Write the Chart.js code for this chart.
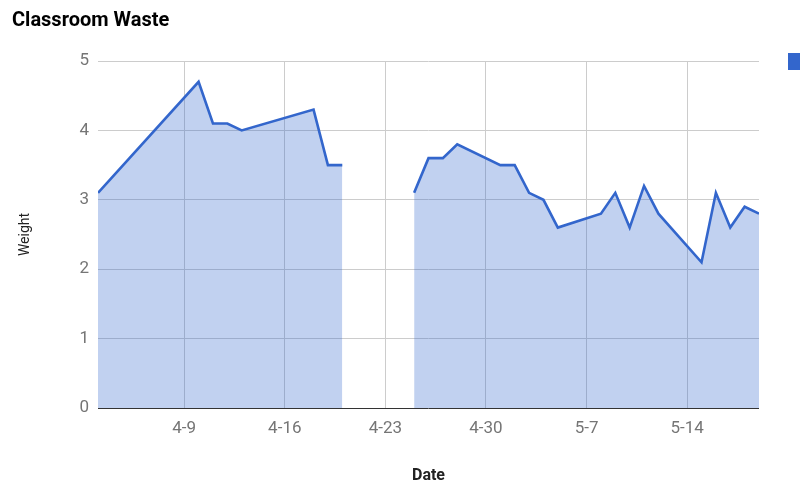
<!DOCTYPE html>
<html>
<head>
<meta charset="utf-8">
<script src="https://cdn.jsdelivr.net/npm/chart.js@4/dist/chart.umd.min.js"></script>
<style>
  html, body { margin: 0; padding: 0; background: #fff; overflow: hidden; }
  canvas { display: block; }
</style>
</head>
<body>
<canvas id="c" width="800" height="487"></canvas>
<script>
const chartTitle = 'Classroom Waste';
const seriesName = 'Weight';
const dates = ['4-3','4-10','4-11','4-12','4-13','4-18','4-19','4-20','4-22',
  '4-25','4-26','4-27','4-28','5-1','5-2','5-3','5-4','5-5','5-8','5-9','5-10',
  '5-11','5-12','5-15','5-16','5-17','5-18','5-19'];
const weights = [3.1,4.7,4.1,4.1,4.0,4.3,3.5,3.5,null,
  3.1,3.6,3.6,3.8,3.5,3.5,3.1,3.0,2.6,2.8,3.1,2.6,
  3.2,2.8,2.1,3.1,2.6,2.9,2.8];
const tickLabels = ['4-9','4-16','4-23','4-30','5-7','5-14'];
const xRange = ['4-3','5-19'];

function dayIndex(s) {
  const [m, d] = s.split('-').map(Number);
  return m === 4 ? d - 3 : 27 + d;
}

const points = dates.map((d, i) => ({ x: dayIndex(d), y: weights[i] }));
const tickValues = tickLabels.map(dayIndex);

const FONT = 'Roboto';

const extras = {
  id: 'extras',
  afterDraw(chart) {
    const ctx = chart.ctx;
    ctx.save();
    ctx.fillStyle = '#000';
    ctx.font = 'bold 20px ' + FONT;
    ctx.textBaseline = 'alphabetic';
    ctx.textAlign = 'left';
    ctx.fillText(chartTitle, 12, 26);
    ctx.fillStyle = '#3366cc';
    ctx.fillRect(788, 53, 14, 17);
    ctx.restore();
  }
};

new Chart(document.getElementById('c'), {
  type: 'line',
  data: {
    datasets: [{
      label: seriesName,
      data: points,
      borderColor: '#3366cc',
      backgroundColor: 'rgba(51,102,204,0.3)',
      borderWidth: 2.6,
      pointRadius: 0,
      tension: 0,
      fill: 'origin',
      spanGaps: false
    }]
  },
  options: {
    responsive: false,
    animation: false,
    layout: { padding: { top: 61, right: 41, left: 0, bottom: 0 } },
    plugins: { legend: { display: false }, title: { display: false }, tooltip: { enabled: false } },
    scales: {
      x: {
        type: 'linear',
        min: dayIndex(xRange[0]),
        max: dayIndex(xRange[1]),
        afterBuildTicks(axis) { axis.ticks = tickValues.map(v => ({ value: v })); },
        afterFit(scale) { scale.height = 79; },
        ticks: {
          callback(v) { const i = tickValues.indexOf(v); return i >= 0 ? tickLabels[i] : ''; },
          color: '#757575',
          font: { family: FONT, size: 17 },
          padding: 11,
          maxRotation: 0,
          autoSkip: false
        },
        grid: { color: '#cccccc', drawTicks: false, lineWidth: 1 },
        border: { display: false },
        title: {
          display: true, text: 'Date', color: '#222',
          font: { family: FONT, size: 16, weight: 'bold' },
          padding: { top: 0, bottom: 1 }
        }
      },
      y: {
        min: 0, max: 5,
        afterFit(scale) { scale.width = 98; },
        ticks: {
          stepSize: 1,
          color: '#757575',
          font: { family: FONT, size: 17 },
          padding: 9
        },
        grid: {
          color: ctx => ctx.tick && ctx.tick.value === 0 ? '#333333' : '#cccccc',
          drawTicks: false, lineWidth: 1
        },
        border: { display: false },
        title: {
          display: true, text: 'Weight', color: '#222',
          font: { family: FONT, size: 14 },
          padding: { top: 17, bottom: 0 }
        }
      }
    }
  },
  plugins: [extras]
});
</script>
</body>
</html>
